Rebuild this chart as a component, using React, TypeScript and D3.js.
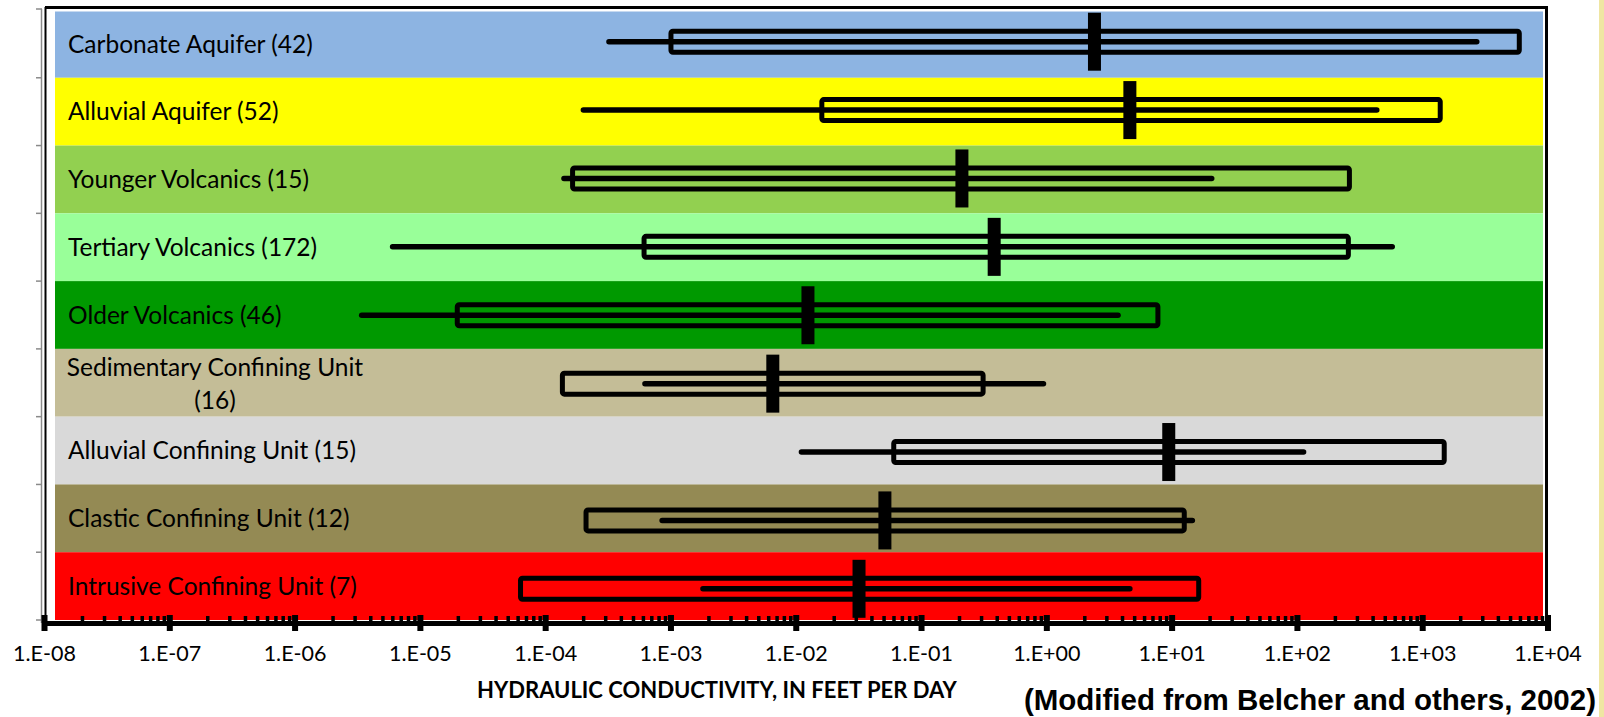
import * as d3 from 'd3';

// hydrogeologic units (sample count in brackets)
const units = [
  'Carbonate Aquifer (42)',
  'Alluvial Aquifer (52)',
  'Younger Volcanics (15)',
  'Tertiary Volcanics (172)',
  'Older Volcanics (46)',
  'Sedimentary Confining Unit (16)',
  'Alluvial Confining Unit (15)',
  'Clastic Confining Unit (12)',
  'Intrusive Confining Unit (7)',
];
const labelLines = [
  ['Carbonate Aquifer (42)'],
  ['Alluvial Aquifer (52)'],
  ['Younger Volcanics (15)'],
  ['Tertiary Volcanics (172)'],
  ['Older Volcanics (46)'],
  ['Sedimentary Confining Unit', '(16)'],
  ['Alluvial Confining Unit (15)'],
  ['Clastic Confining Unit (12)'],
  ['Intrusive Confining Unit (7)'],
];
const bandColors = ['#8db4e2', '#ffff00', '#92d050', '#99ff99', '#009900', '#c4bd97', '#d9d9d9', '#948a54', '#ff0000'];

// hydraulic conductivity, ft/day
const lineLow = [3.2e-4, 2.0e-4, 1.4e-4, 6.0e-6, 3.4e-6, 6.2e-4, 1.1e-2, 8.5e-4, 1.8e-3];
const lineHigh = [2.7e3, 4.3e2, 20.7, 571, 3.7, 0.94, 112, 14.5, 4.6];
const boxLow = [1.0e-3, 1.6e-2, 1.64e-4, 6.1e-4, 1.97e-5, 1.36e-4, 0.06, 2.1e-4, 6.3e-5];
const boxHigh = [5.9e3, 1380, 260, 255, 7.7, 0.31, 1485, 12.5, 16.3];
const median = [2.4, 4.6, 0.21, 0.38, 0.0124, 6.5e-3, 9.4, 0.051, 0.0317];

const decades = [1e-8, 1e-7, 1e-6, 1e-5, 1e-4, 1e-3, 1e-2, 1e-1, 1e0, 1e1, 1e2, 1e3, 1e4];
const tickLabels = ['1.E-08', '1.E-07', '1.E-06', '1.E-05', '1.E-04', '1.E-03', '1.E-02', '1.E-01', '1.E+00', '1.E+01', '1.E+02', '1.E+03', '1.E+04'];

const width = 1604;
const height = 717;
const font = 'Lato, "Open Sans", sans-serif';

export default function App() {
  const x = d3.scaleLog().domain([1e-8, 1e4]).range([44.5, 1548]);
  const yBand = d3.scaleBand<string>().domain(units).range([10, 620]);
  const yMark = d3.scaleBand<string>().domain(units).range([7.5, 623]);

  const minor: number[] = [];
  decades.slice(0, -1).forEach((d) => {
    for (let k = 2; k <= 9; k++) minor.push(d * k);
  });

  const boundaries = units.map((u) => yBand(u) || 0).concat([620]);

  return (
    <svg width={width} height={height} style={{ position: 'absolute', left: 0, top: 0, background: '#fff' }}>
      {/* slide edge on the right */}
      <rect x={1599} y={0} width={5} height={height} fill="#efe6a2" />

      {/* coloured bands */}
      {units.map((u, i) => (
        <rect key={u} x={55} y={Math.max(11.5, yBand(u) || 0)} width={1543 - 55}
          height={(yBand(u) || 0) + yBand.bandwidth() - Math.max(11.5, yBand(u) || 0)} fill={bandColors[i]} />
      ))}

      {/* band labels */}
      {units.map((u, i) => {
        const cy = (yBand(u) || 0) + yBand.bandwidth() / 2;
        const lines = labelLines[i];
        if (lines.length === 1) {
          return (
            <text key={u} x={68} y={cy} dy="0.36em" fontFamily={font} fontSize={24.5} fill="#000">{lines[0]}</text>
          );
        }
        return (
          <g key={u} fontFamily={font} fontSize={24.5} fill="#000" textAnchor="middle">
            <text x={215} y={cy - 16} dy="0.36em">{lines[0]}</text>
            <text x={215} y={cy + 17} dy="0.36em">{lines[1]}</text>
          </g>
        );
      })}

      {/* ranges, boxes and medians */}
      {units.map((u, i) => {
        const cy = (yMark(u) || 0) + yMark.bandwidth() / 2;
        return (
          <g key={u}>
            <rect x={x(boxLow[i])} y={cy - 10.5} width={x(boxHigh[i]) - x(boxLow[i])} height={21}
              fill="none" stroke="#000" strokeWidth={5} rx={2} />
            <line x1={x(lineLow[i])} x2={x(lineHigh[i])} y1={cy} y2={cy}
              stroke="#000" strokeWidth={5.5} strokeLinecap="round" />
            <rect x={x(median[i]) - 6.5} y={cy - 29} width={13} height={58} fill="#000" />
          </g>
        );
      })}

      {/* frame */}
      <line x1={45} x2={1548} y1={7.5} y2={7.5} stroke="#000" strokeWidth={3} />
      <line x1={1546.5} x2={1546.5} y1={6} y2={623} stroke="#000" strokeWidth={3} />
      <line x1={41.5} x2={41.5} y1={9} y2={623} stroke="#8a8a8a" strokeWidth={1.5} />
      <line x1={45.5} x2={45.5} y1={7} y2={623} stroke="#000" strokeWidth={2} />
      {boundaries.map((b, i) => (
        <line key={i} x1={36} x2={42} y1={i === 0 ? 9 : b} y2={i === 0 ? 9 : b} stroke="#8a8a8a" strokeWidth={1.5} />
      ))}

      {/* x axis */}
      <line x1={42} x2={1550} y1={623.5} y2={623.5} stroke="#000" strokeWidth={5} />
      {minor.map((m) => (
        <rect key={m} x={x(m) - 1.5} y={616} width={3.5} height={7} fill="#000" />
      ))}
      {decades.map((d) => (
        <rect key={d} x={x(d) - 3} y={615} width={6} height={16} fill="#000" />
      ))}
      {decades.map((d, i) => (
        <text key={d} x={x(d)} y={653} dy="0.36em" textAnchor="middle" fontFamily={font} fontSize={21.5} fill="#000">
          {tickLabels[i]}
        </text>
      ))}
      <text x={717} y={690} dy="0.36em" textAnchor="middle" fontFamily={font} fontWeight="bold" fontSize={22} fill="#000">
        HYDRAULIC CONDUCTIVITY, IN FEET PER DAY
      </text>
      <text x={1596} y={710} textAnchor="end" fontFamily='"Liberation Sans", Arial, sans-serif'
        fontWeight="bold" fontSize={29.5} fill="#000">
        (Modified from Belcher and others, 2002)
      </text>
    </svg>
  );
}
